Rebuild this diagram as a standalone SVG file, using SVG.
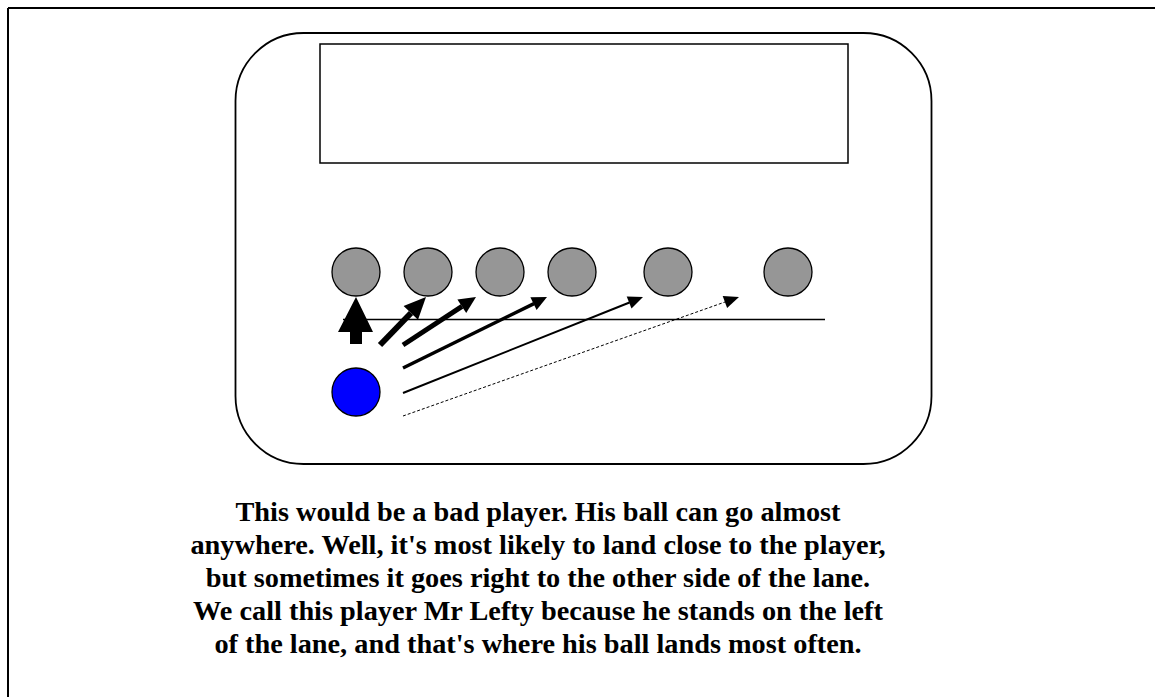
<svg xmlns="http://www.w3.org/2000/svg" width="1155" height="697" viewBox="0 0 1155 697">
<style>
.pin{fill:#969696;stroke:#000;stroke-width:1.3}
.ln{stroke:#000;fill:none}
.hd{fill:#000;stroke:none}
.txt{font-family:"Liberation Serif","Times New Roman",serif;font-weight:bold;font-size:28.3px;fill:#000;text-anchor:middle}
</style>
<rect width="1155" height="697" fill="#fff"/>
<g id="frame">
<line x1="8" y1="8" x2="1155" y2="8" stroke="#000" stroke-width="2"/>
<line x1="8" y1="8" x2="8" y2="697" stroke="#000" stroke-width="2"/>
</g>
<g id="lane">
<rect x="235.5" y="33" width="696" height="431" rx="68" ry="68" fill="none" stroke="#000" stroke-width="1.8"/>
</g>
<g id="board">
<rect x="320" y="44" width="528" height="119" fill="none" stroke="#000" stroke-width="1.5"/>
</g>
<g id="foul-line">
<line x1="343" y1="319.5" x2="825" y2="319.5" stroke="#000" stroke-width="1.5"/>
</g>
<g id="pin1"><circle class="pin" cx="356" cy="272" r="24"/></g>
<g id="pin2"><circle class="pin" cx="428" cy="272" r="24"/></g>
<g id="pin3"><circle class="pin" cx="500" cy="272" r="24"/></g>
<g id="pin4"><circle class="pin" cx="572" cy="272" r="24"/></g>
<g id="pin5"><circle class="pin" cx="668" cy="272" r="24"/></g>
<g id="pin6"><circle class="pin" cx="788" cy="272" r="24"/></g>
<g id="player"><circle cx="356" cy="392" r="24" fill="#0000ff" stroke="#000" stroke-width="1.3"/></g>
<g id="connectors">
<polygon class="hd" points="350,344 362,344 362,332 373,332 356,297 338,332 350,332"/>
<line class="ln" x1="380" y1="345" x2="411" y2="313" stroke-width="6"/>
<polygon class="hd" points="426,297 418,319.8 403.6,306"/>
<line class="ln" x1="403" y1="345" x2="462" y2="306.3" stroke-width="5"/>
<polygon class="hd" points="476,297 466.2,313 457.4,299.6"/>
<line class="ln" x1="403" y1="368" x2="534" y2="303.6" stroke-width="3.5"/>
<polygon class="hd" points="547,297 536.6,309.9 530.4,297.3"/>
<line class="ln" x1="403" y1="393" x2="629.5" y2="302.5" stroke-width="2"/>
<polygon class="hd" points="643,297 631.5,308.6 626.7,296.6"/>
<line class="ln" x1="403" y1="416" x2="725" y2="302" stroke="#555" stroke-width="1" stroke-dasharray="3,2"/>
<polygon class="hd" points="739,297 727.1,308.1 722.7,295.9"/>
</g>
<g id="caption">
<text class="txt" x="538" y="521">This would be a bad player. His ball can go almost</text>
<text class="txt" x="538" y="554">anywhere. Well, it's most likely to land close to the player,</text>
<text class="txt" x="538" y="587">but sometimes it goes right to the other side of the lane.</text>
<text class="txt" x="538" y="620">We call this player Mr Lefty because he stands on the left</text>
<text class="txt" x="538" y="653">of the lane, and that's where his ball lands most often.</text>
</g>
</svg>
